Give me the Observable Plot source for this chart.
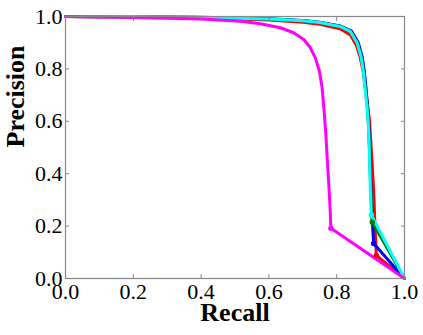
<!DOCTYPE html>
<html>
<head>
<meta charset="utf-8">
<script src="https://cdn.jsdelivr.net/npm/d3@7"></script>
<script src="https://cdn.jsdelivr.net/npm/@observablehq/plot@0.6"></script>
<style>
  html, body { margin: 0; padding: 0; background: #fff; }
  #chart svg { display: block; }
</style>
</head>
<body>
<div id="chart"></div>
<script>
// ---- data ----
const tickValues = [0, 0.2, 0.4, 0.6, 0.8, 1.0];
const xLabel = "Recall";
const yLabel = "Precision";

const seriesNames = ["red", "blue", "green", "cyan", "magenta"];
const seriesColors = ["#ff0000", "#0000ff", "#008000", "#00bfbf", "#bf00bf"];

const recallRed =    [0, 0.2, 0.4, 0.6, 0.7, 0.75, 0.81, 0.84, 0.858, 0.869, 0.878, 0.884, 0.889, 0.893, 0.897, 0.903, 0.909, 0.913, 0.917, 1.0];
const precisionRed = [1, 0.998, 0.994, 0.987, 0.978, 0.97, 0.953, 0.93, 0.89, 0.845, 0.79, 0.73, 0.68, 0.64, 0.60, 0.47, 0.336, 0.2, 0.088, 0];

const recallBlue =    [0, 0.2, 0.4, 0.6, 0.7, 0.75, 0.81, 0.843, 0.863, 0.875, 0.882, 0.887, 0.891, 0.895, 0.898, 0.901, 0.904, 0.906, 0.909, 1.0];
const precisionBlue = [1, 0.999, 0.997, 0.991, 0.985, 0.978, 0.964, 0.945, 0.903, 0.848, 0.785, 0.72, 0.66, 0.58, 0.46, 0.34, 0.26, 0.2, 0.134, 0];

const recallGreen =    [0, 0.2, 0.4, 0.6, 0.7, 0.75, 0.81, 0.841, 0.861, 0.873, 0.88, 0.885, 0.89, 0.894, 0.897, 0.9, 0.903, 0.905, 1.0];
const precisionGreen = [1, 0.999, 0.996, 0.99, 0.984, 0.977, 0.963, 0.944, 0.901, 0.846, 0.785, 0.72, 0.66, 0.58, 0.48, 0.36, 0.26, 0.215, 0];

const recallCyan =    [0, 0.2, 0.4, 0.6, 0.7, 0.75, 0.81, 0.84, 0.86, 0.872, 0.879, 0.884, 0.889, 0.893, 0.896, 0.899, 0.901, 0.902, 1.0];
const precisionCyan = [1, 0.999, 0.996, 0.99, 0.984, 0.977, 0.962, 0.943, 0.9, 0.845, 0.785, 0.72, 0.66, 0.6, 0.5, 0.35, 0.28, 0.243, 0];

const recallMagenta =    [0, 0.1, 0.2, 0.3, 0.4, 0.516, 0.575, 0.634, 0.673, 0.703, 0.722, 0.737, 0.749, 0.757, 0.763, 0.768, 0.772, 0.776, 0.78, 0.783, 1.0];
const precisionMagenta = [1, 0.998, 0.996, 0.993, 0.99, 0.982, 0.972, 0.957, 0.938, 0.912, 0.881, 0.842, 0.791, 0.728, 0.638, 0.55, 0.46, 0.374, 0.28, 0.192, 0];

// ---- build table ----
const recalls = [recallRed, recallBlue, recallGreen, recallCyan, recallMagenta];
const precisions = [precisionRed, precisionBlue, precisionGreen, precisionCyan, precisionMagenta];
const lines = [];
const endPoints = [];
seriesNames.forEach((name, i) => {
  const r = recalls[i], p = precisions[i];
  r.forEach((v, j) => lines.push({series: name, recall: v, precision: p[j]}));
  const k = r.length - 2;
  endPoints.push({series: name, recall: r[k], precision: p[k]});
});

const serif = "Liberation Serif";
const fmt = d3.format(".1f");

const chart = Plot.plot({
  width: 423,
  height: 335,
  marginLeft: 65,
  marginRight: 19,
  marginTop: 16,
  marginBottom: 57,
  style: "background: #fff; font-family: 'Liberation Serif';",
  x: {domain: [0, 1], ticks: tickValues},
  y: {domain: [0, 1], ticks: tickValues},
  color: {domain: seriesNames, range: seriesColors},
  marks: [
    Plot.line(lines, {x: "recall", y: "precision", z: "series", stroke: "series", strokeWidth: 3, strokeLinejoin: "round", strokeLinecap: "round"}),
    Plot.dot(endPoints, {x: "recall", y: "precision", fill: "series", stroke: "series", r: 2}),
    Plot.frame({stroke: "#888", strokeWidth: 1.2}),
    Plot.axisX(tickValues, {anchor: "bottom", tickSize: -4, tickPadding: 9, tickFormat: fmt, fontSize: 22, fontFamily: serif, fill: "#000", stroke: "#888", label: null}),
    Plot.axisX(tickValues, {anchor: "top", tickSize: -4, tickFormat: () => "", stroke: "#888", label: null}),
    Plot.axisY(tickValues, {anchor: "left", tickSize: -4, tickPadding: 7, tickFormat: fmt, fontSize: 22, fontFamily: serif, fill: "#000", stroke: "#888", label: null}),
    Plot.axisY(tickValues, {anchor: "right", tickSize: -4, tickFormat: () => "", stroke: "#888", label: null}),
    Plot.text([xLabel], {frameAnchor: "bottom", dy: 42, text: d => d, fontSize: 26, fontWeight: "bold", fontFamily: serif, fill: "#000"}),
    Plot.text([yLabel], {frameAnchor: "left", dx: -50, rotate: -90, text: d => d, fontSize: 26, fontWeight: "bold", fontFamily: serif, fill: "#000"})
  ]
});
chart.setAttribute("font-family", "Liberation Serif");
d3.select(chart).selectAll("g, text, tspan").each(function () {
  if (this.hasAttribute("font-family")) this.setAttribute("font-family", "Liberation Serif");
});
d3.select(chart).selectAll("text").style("font-family", "'Liberation Serif'");
document.getElementById("chart").appendChild(chart);
</script>
</body>
</html>
